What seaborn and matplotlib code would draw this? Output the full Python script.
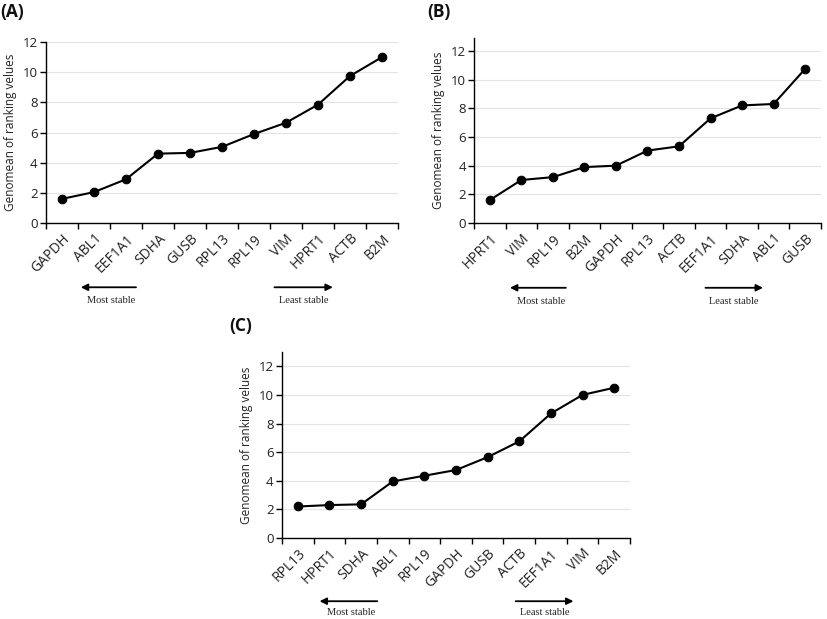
import matplotlib
matplotlib.use("Agg")
import matplotlib.pyplot as plt
import seaborn as sns
import pandas as pd
from matplotlib.ticker import FixedLocator

sns.set_theme(style="white")
plt.rcParams['font.family'] = ['Open Sans', 'DejaVu Sans']

genes_a = ["GAPDH", "ABL1", "EEF1A1", "SDHA", "GUSB", "RPL13", "RPL19", "VIM", "HPRT1", "ACTB", "B2M"]
vals_a = [1.6, 2.05, 2.9, 4.6, 4.65, 5.05, 5.9, 6.65, 7.85, 9.75, 11.0]

genes_b = ["HPRT1", "VIM", "RPL19", "B2M", "GAPDH", "RPL13", "ACTB", "EEF1A1", "SDHA", "ABL1", "GUSB"]
vals_b = [1.6, 3.0, 3.2, 3.9, 4.0, 5.05, 5.35, 7.3, 8.2, 8.3, 10.75]

genes_c = ["RPL13", "HPRT1", "SDHA", "ABL1", "RPL19", "GAPDH", "GUSB", "ACTB", "EEF1A1", "VIM", "B2M"]
vals_c = [2.2, 2.3, 2.35, 3.95, 4.35, 4.75, 5.65, 6.75, 8.7, 10.0, 10.5]

yticks = [0, 2, 4, 6, 8, 10, 12]
ylabel = "Genomean of ranking velues"

fig = plt.figure(figsize=(8.27, 6.19), dpi=100)

panels = [
    ("(A)", genes_a, vals_a, [0.0556, 0.6397, 0.4257, 0.2924], 12.0, (0.0, 0.995), (0.5, 2.4), (6.55, 8.55), -0.355, -0.43),
    ("(B)", genes_b, vals_b, [0.5732, 0.6397, 0.4195, 0.2989], 12.9, (0.517, 0.995), (0.55, 2.5), (6.75, 8.75), -0.35, -0.425),
    ("(C)", genes_c, vals_c, [0.3410, 0.1309, 0.4208, 0.3005], 13.0, (0.277, 0.488), (0.6, 2.6), (6.8, 8.8), -0.34, -0.40),
]

for label, genes, vals, rect, ytop, lpos, most, least, ay, ty in panels:
    ax = fig.add_axes(rect)
    df = pd.DataFrame({"gene": genes, "value": vals})
    sns.lineplot(data=df, x="gene", y="value", ax=ax, sort=False, color="black",
                 marker="o", markersize=6.2, markeredgecolor="black", linewidth=1.5)
    n = len(genes)
    ax.set_xlim(-0.5, n - 0.5)
    ax.set_ylim(0, ytop)
    ax.set_yticks(yticks)
    ax.set_yticklabels([str(t) for t in yticks], fontsize=9.5, color="#222222")
    ax.set_xticks(range(n))
    ax.set_xticklabels(genes, rotation=45, ha="right", rotation_mode="anchor",
                       fontsize=10, color="#222222")
    ax.tick_params(axis="x", which="major", length=0, pad=6)
    ax.xaxis.set_minor_locator(FixedLocator([i - 0.5 for i in range(n + 1)]))
    ax.tick_params(axis="x", which="minor", length=4, width=1, color="black", direction="out", bottom=True)
    ax.tick_params(axis="y", length=4, width=1, color="black", direction="out", left=True, pad=2)
    for t in yticks[1:]:
        ax.axhline(t, color="#e3e3e3", linewidth=0.8, zorder=0)
    ax.grid(False)
    for s in ["top", "right"]:
        ax.spines[s].set_visible(False)
    for s in ["left", "bottom"]:
        ax.spines[s].set_color("black")
        ax.spines[s].set_linewidth(1.0)
    ax.set_xlabel("")
    ax.set_ylabel(ylabel, fontsize=8.5, color="#222222", labelpad=4)

    tr = ax.get_xaxis_transform()
    ax.annotate("", xy=(most[0], ay), xytext=(most[1], ay), xycoords=tr, textcoords=tr,
                arrowprops=dict(arrowstyle="-|>", color="black", lw=1.3, mutation_scale=10),
                annotation_clip=False)
    ax.annotate("", xy=(least[1], ay), xytext=(least[0], ay), xycoords=tr, textcoords=tr,
                arrowprops=dict(arrowstyle="-|>", color="black", lw=1.3, mutation_scale=10),
                annotation_clip=False)
    ax.text((most[0] + most[1]) / 2 + 0.1, ty, "Most stable", transform=tr, ha="center", va="center",
            fontsize=7.5, family="Liberation Serif", color="#222222")
    ax.text((least[0] + least[1]) / 2, ty, "Least stable", transform=tr, ha="center", va="center",
            fontsize=7.5, family="Liberation Serif", color="#222222")

    fig.text(lpos[0], lpos[1], label, ha="left", va="top", fontsize=12.5, fontweight="bold", color="#111111")

fig.savefig("out.png", dpi=100)
